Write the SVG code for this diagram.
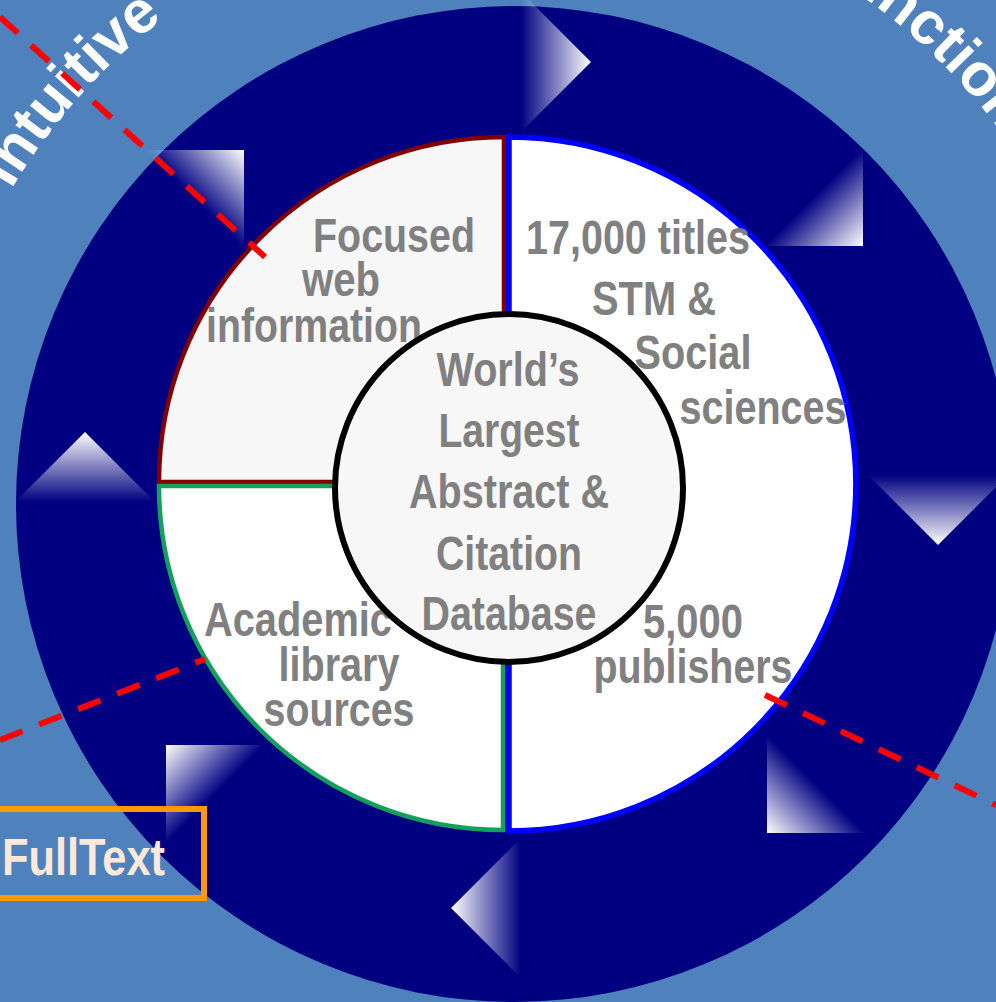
<svg xmlns="http://www.w3.org/2000/svg" width="996" height="1002" viewBox="0 0 996 1002">
<style>
.lbl{font-family:"Liberation Sans Narrow","Liberation Sans",Arial,sans-serif;font-weight:bold;font-size:48px;fill:#808080;text-anchor:middle}
.arc{font-family:"Liberation Sans",Arial,sans-serif;font-weight:bold;font-size:60px;fill:#ffffff}
.dash{stroke:#ff0000;stroke-width:6;stroke-dasharray:24 18;fill:none}
.arrow{fill:url(#fade)}
</style>
<defs>
<linearGradient id="fade" gradientUnits="userSpaceOnUse" x1="-70" y1="0" x2="0" y2="0">
<stop offset="0" stop-color="#ffffff" stop-opacity="0"/>
<stop offset="1" stop-color="#ffffff" stop-opacity="1"/>
</linearGradient>
<polygon id="tri" points="0,0 -70,-70 -70,70"/>
<path id="p1" d="M-70,488 A588,588 0 0 1 1106,488"/>
<path id="p2" d="M-82,488 A600,600 0 0 1 1118,488"/>
</defs>
<rect x="0" y="0" width="996" height="1002" fill="#4f81bd"/>
<g id="ring">
<circle cx="514" cy="504" r="498" fill="#000080"/>
</g>
<g id="curved-labels">
<text class="arc"><textPath href="#p1" startOffset="313">Intuitive</textPath></text>
<text class="arc"><textPath href="#p2" startOffset="1251">Functional</textPath></text>
</g>
<g id="arrows">
<use href="#tri" class="arrow" transform="translate(591,62)"/>
<use href="#tri" class="arrow" transform="translate(863,246) rotate(45)"/>
<use href="#tri" class="arrow" transform="translate(938,545) rotate(90)"/>
<use href="#tri" class="arrow" transform="translate(767,833) rotate(135)"/>
<use href="#tri" class="arrow" transform="translate(451,908) rotate(180)"/>
<use href="#tri" class="arrow" transform="translate(166,745) rotate(225)"/>
<use href="#tri" class="arrow" transform="translate(85,432) rotate(270)"/>
<use href="#tri" class="arrow" transform="translate(244,150) rotate(315)"/>
</g>
<g id="sector-web">
<path d="M504,482 L159,482 A345,345 0 0 1 504,137 Z" fill="#f7f7f7" stroke="#800000" stroke-width="4.5"/>
<text class="lbl" x="394" y="252" textLength="162" lengthAdjust="spacingAndGlyphs">Focused</text>
<text class="lbl" x="341" y="296" textLength="78" lengthAdjust="spacingAndGlyphs">web</text>
<text class="lbl" x="314" y="342" textLength="216" lengthAdjust="spacingAndGlyphs">information</text>
</g>
<g id="sector-library">
<path d="M503,486 L159,486 A344,344 0 0 0 503,830 Z" fill="#ffffff" stroke="#14a05a" stroke-width="4.5"/>
<text class="lbl" x="298" y="636" textLength="188" lengthAdjust="spacingAndGlyphs">Academic</text>
<text class="lbl" x="339" y="681" textLength="121" lengthAdjust="spacingAndGlyphs">library</text>
<text class="lbl" x="339" y="726" textLength="151" lengthAdjust="spacingAndGlyphs">sources</text>
</g>
<g id="sector-titles">
<path d="M509,484 L509,137 A347,347 0 0 1 509,831 Z" fill="#ffffff" stroke="#0000ff" stroke-width="5.5"/>
<text class="lbl" x="638" y="254" textLength="224" lengthAdjust="spacingAndGlyphs">17,000 titles</text>
<text class="lbl" x="654" y="315" textLength="124" lengthAdjust="spacingAndGlyphs">STM &amp;</text>
<text class="lbl" x="693" y="369" textLength="117" lengthAdjust="spacingAndGlyphs">Social</text>
<text class="lbl" x="763" y="424" textLength="167" lengthAdjust="spacingAndGlyphs">sciences</text>
<text class="lbl" x="693" y="638" textLength="100" lengthAdjust="spacingAndGlyphs">5,000</text>
<text class="lbl" x="693" y="683" textLength="199" lengthAdjust="spacingAndGlyphs">publishers</text>
</g>
<g id="core">
<circle cx="509" cy="488" r="174" fill="#f7f7f7" stroke="#000000" stroke-width="6"/>
<text class="lbl" x="508" y="386" textLength="143" lengthAdjust="spacingAndGlyphs">World’s</text>
<text class="lbl" x="509" y="447" textLength="141" lengthAdjust="spacingAndGlyphs">Largest</text>
<text class="lbl" x="509" y="508" textLength="200" lengthAdjust="spacingAndGlyphs">Abstract &amp;</text>
<text class="lbl" x="509" y="570" textLength="146" lengthAdjust="spacingAndGlyphs">Citation</text>
<text class="lbl" x="509" y="630" textLength="175" lengthAdjust="spacingAndGlyphs">Database</text>
</g>
<g id="connectors">
<line class="dash" x1="0" y1="17" x2="265" y2="257"/>
<line class="dash" x1="0" y1="740" x2="205" y2="659"/>
<line class="dash" x1="765" y1="695" x2="996" y2="805"/>
</g>
<g id="fulltext">
<rect x="-10" y="809" width="214" height="89" fill="none" stroke="#ff9900" stroke-width="6"/>
<text x="2" y="875" font-family="Liberation Sans Narrow,Liberation Sans,Arial,sans-serif" font-weight="bold" font-size="52" fill="#fde9d9" textLength="163" lengthAdjust="spacingAndGlyphs">FullText</text>
</g>
</svg>
